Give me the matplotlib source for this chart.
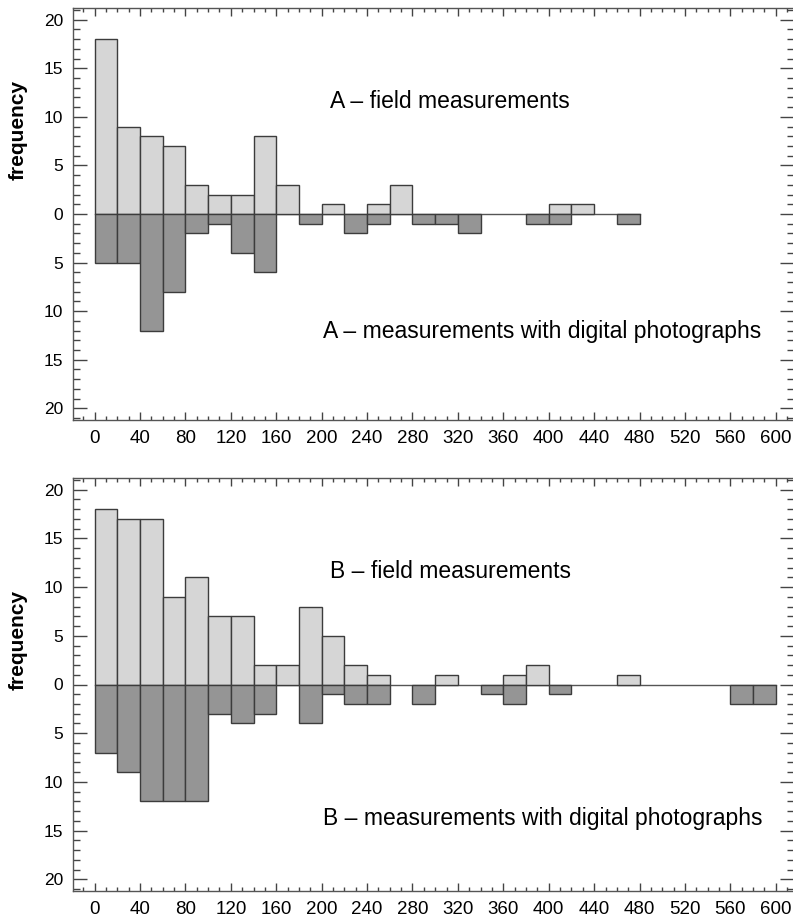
import numpy as np
import matplotlib
matplotlib.use("Agg")
import matplotlib.pyplot as plt
from matplotlib.ticker import MultipleLocator, FuncFormatter

plt.rcParams['font.family'] = ['Liberation Sans', 'DejaVu Sans']

# bin left edges (20 m classes), 0 .. 580
bins = np.arange(0, 600, 20)
width = 20

# panel A
a_field = [18, 9, 8, 7, 3, 2, 2, 8, 3, 0, 1, 0, 1, 3, 0,
           0, 0, 0, 0, 0, 1, 1, 0, 0, 0, 0, 0, 0, 0, 0]
a_photo = [5, 5, 12, 8, 2, 1, 4, 6, 0, 1, 0, 2, 1, 0, 1,
           1, 2, 0, 0, 1, 1, 0, 0, 1, 0, 0, 0, 0, 0, 0]

# panel B
b_field = [18, 17, 17, 9, 11, 7, 7, 2, 2, 8, 5, 2, 1, 0, 0,
           1, 0, 0, 1, 2, 0, 0, 0, 1, 0, 0, 0, 0, 0, 0]
b_photo = [7, 9, 12, 12, 12, 3, 4, 3, 0, 4, 1, 2, 2, 0, 2,
           0, 0, 1, 2, 0, 1, 0, 0, 0, 0, 0, 0, 0, 2, 2]

panels = [
    ("A", a_field, a_photo),
    ("B", b_field, b_photo),
]

light = "#d6d6d6"
dark = "#959595"
edge = "#3c3c3c"

fig = plt.figure(figsize=(7.93, 9.18), dpi=100)
ax_rects = [
    [73/793, 1-420/918, 721/793, 412/918],
    [73/793, 1-891/918, 721/793, 413/918],
]
fig_ylab = [1-130/918, 1-640/918]
photo_y = [-12.1, -13.8]

for (name, field, photo), rect, ylab_y, py in zip(panels, ax_rects, fig_ylab, photo_y):
    ax = fig.add_axes(rect)
    field = np.array(field)
    photo = np.array(photo)

    # zero line up to the last non-empty class
    used = np.nonzero((field > 0) | (photo > 0))[0]
    last = bins[used[-1]] + width
    ax.plot([0, last], [0, 0], color="#555555", lw=1, zorder=1)

    m = field > 0
    ax.bar(bins[m], field[m], width=width, align="edge", color=light,
           edgecolor=edge, linewidth=1, zorder=2)
    m = photo > 0
    ax.bar(bins[m], -photo[m], width=width, align="edge", color=dark,
           edgecolor=edge, linewidth=1, zorder=2)

    ax.set_xlim(-19, 616)
    ax.set_ylim(-21.2, 21.2)

    ax.xaxis.set_major_locator(MultipleLocator(40))
    ax.xaxis.set_minor_locator(MultipleLocator(10))
    ax.yaxis.set_major_locator(MultipleLocator(5))
    ax.yaxis.set_minor_locator(MultipleLocator(1))
    ax.yaxis.set_major_formatter(FuncFormatter(lambda v, p: "%d" % abs(round(v))))

    ax.tick_params(axis="x", which="both", direction="in", top=True,
                   colors="#444444", labelcolor="black", labelsize=13.5, pad=7)
    ax.tick_params(axis="x", which="major", length=6, width=1)
    ax.tick_params(axis="x", which="minor", length=3, width=1)
    ax.tick_params(axis="y", which="both", direction="in", right=True,
                   colors="#444444", labelcolor="black", labelsize=12.5, pad=7)
    ax.tick_params(axis="y", which="major", length=10, width=1)
    ax.tick_params(axis="y", which="minor", length=5, width=1)
    for s in ax.spines.values():
        s.set_color("#555555")
        s.set_linewidth(1)

    ax.text(207, 11.6, name + " \u2013 field measurements", fontsize=16.5,
            va="center", ha="left")
    ax.text(201, py, name + " \u2013 measurements with digital photographs",
            fontsize=16.5, va="center", ha="left")

    fig.text(18/793, ylab_y, "frequency", rotation=90, fontsize=15,
             fontweight="bold", va="center", ha="center")

fig.savefig("out.png", dpi=100)
